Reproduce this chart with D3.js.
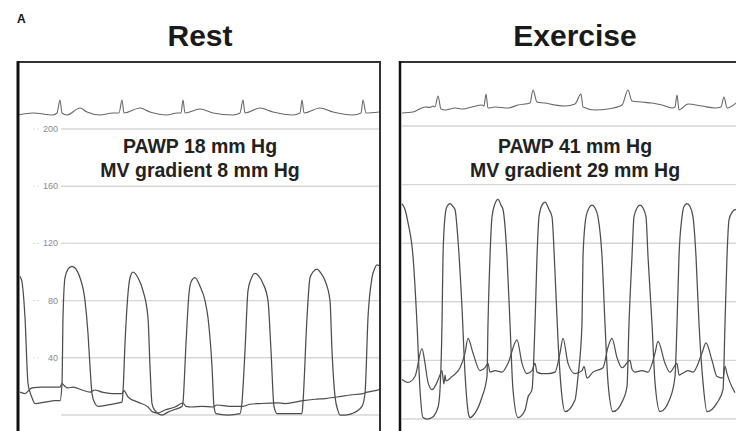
<!DOCTYPE html>
<html>
<head>
<meta charset="utf-8">
<script src="https://cdn.jsdelivr.net/npm/d3@7/dist/d3.min.js"></script>
<style>
  html, body { margin: 0; padding: 0; background: #fff; }
  svg { display: block; }
</style>
</head>
<body>
<svg id="chart" width="736" height="431"></svg>
<script>
// ---------------- DATA ----------------
const panelLabel = "A";
const panelTitles = ["Rest", "Exercise"];
const annotations = [
  ["PAWP 18 mm Hg", "MV gradient 8 mm Hg"],
  ["PAWP 41 mm Hg", "MV gradient 29 mm Hg"]
];
const gridValues = [0, 40, 80, 120, 160, 200];
const tickLabels = ["40", "80", "120", "160", "200"];

// Rest: time (s), pressure (mm Hg)
const restLV = [[0.00,97],[0.02,93],[0.05,68],[0.08,22],[0.10,16],[0.12,12],[0.15,8],[0.25,9],[0.35,10],[0.40,10],[0.42,22],[0.43,68],[0.45,96],[0.48,102],[0.52,104],[0.56,102],[0.60,96],[0.65,80],[0.68,57],[0.70,34],[0.72,15],[0.75,8],[0.78,6],[0.88,7],[0.95,8],[1.02,9],[1.03,16],[1.05,50],[1.08,85],[1.10,96],[1.13,100],[1.18,96],[1.23,87],[1.28,68],[1.30,34],[1.32,8],[1.35,3],[1.42,0],[1.48,2],[1.55,4],[1.62,6],[1.63,9],[1.66,50],[1.69,85],[1.71,93],[1.75,96],[1.80,90],[1.85,80],[1.88,68],[1.92,34],[1.94,6],[1.96,1],[2.08,0],[2.20,1],[2.22,9],[2.25,45],[2.28,87],[2.31,95],[2.35,99],[2.39,97],[2.43,92],[2.48,80],[2.51,45],[2.54,6],[2.57,1],[2.70,1],[2.82,1],[2.83,9],[2.87,68],[2.90,96],[2.93,100],[2.97,102],[3.01,99],[3.05,94],[3.10,80],[3.12,45],[3.15,13],[3.18,3],[3.20,0],[3.25,0],[3.32,1],[3.42,6],[3.45,15],[3.48,68],[3.52,96],[3.55,103],[3.57,105],[3.60,104]];
const restPAWP = [[0.00,16],[0.05,15],[0.12,19],[0.22,19.5],[0.32,19.5],[0.40,19.5],[0.42,22],[0.45,20],[0.48,19],[0.53,19.5],[0.62,17.5],[0.70,16],[0.75,17.5],[0.82,16],[0.92,15],[1.02,15],[1.04,17],[1.08,12.6],[1.18,9],[1.28,5.6],[1.33,2],[1.38,1.4],[1.45,3.5],[1.55,5.6],[1.63,8.4],[1.66,6],[1.72,5.6],[1.82,6],[1.93,5.6],[1.97,7],[2.10,6],[2.23,6],[2.30,7.5],[2.40,8],[2.57,8.5],[2.65,8],[2.75,9],[2.83,10],[2.95,11],[3.05,11.5],[3.17,12.6],[3.30,14],[3.43,15],[3.47,16],[3.55,17],[3.60,18]];
// Rest ECG: time (s), relative amplitude
const restECG = [[-0.02,-0.15],[0.13,0],[0.33,-0.15],[0.37,0],[0.40,1.0],[0.42,0],[0.47,-0.15],[0.60,0.38],[0.67,0.08],[0.80,-0.15],[0.93,0],[0.99,0],[1.02,1.0],[1.04,0],[1.20,0.38],[1.30,0.08],[1.47,-0.15],[1.57,0],[1.61,0],[1.63,1.0],[1.65,0],[1.80,0.31],[1.93,0],[2.13,-0.15],[2.20,0],[2.23,1.0],[2.25,0],[2.40,0.38],[2.53,0.08],[2.73,-0.15],[2.80,0],[2.82,1.0],[2.84,0],[3.00,0.38],[3.13,0.08],[3.33,-0.15],[3.41,0],[3.43,1.0],[3.46,0],[3.60,0.08]];

// Exercise
const exLV = [[-0.01,147],[0.02,143],[0.05,134],[0.10,111],[0.14,65],[0.17,20],[0.20,1],[0.24,0],[0.29,1],[0.35,8],[0.37,20],[0.39,65],[0.40,111],[0.42,138],[0.44,145],[0.47,147],[0.50,145],[0.52,143],[0.55,122],[0.59,76],[0.62,31],[0.66,2],[0.67,1],[0.72,4],[0.79,15],[0.84,29],[0.85,65],[0.87,111],[0.89,138],[0.92,147],[0.95,150],[0.98,146],[1.00,143],[1.04,111],[1.07,65],[1.10,20],[1.15,1],[1.22,6],[1.25,15],[1.29,20],[1.32,65],[1.34,111],[1.36,138],[1.39,146],[1.42,148],[1.46,143],[1.49,138],[1.52,100],[1.55,54],[1.59,15],[1.62,5],[1.72,13],[1.75,29],[1.79,65],[1.80,111],[1.83,138],[1.86,144],[1.89,146],[1.92,144],[1.95,138],[1.99,111],[2.02,65],[2.05,25],[2.10,5],[2.20,13],[2.24,22],[2.26,65],[2.29,111],[2.31,138],[2.34,144],[2.37,146],[2.40,144],[2.43,138],[2.45,111],[2.49,65],[2.52,25],[2.57,5],[2.67,14],[2.72,29],[2.74,65],[2.76,111],[2.79,138],[2.81,145],[2.84,147],[2.87,145],[2.90,138],[2.93,111],[2.96,65],[3.00,25],[3.04,5],[3.14,11],[3.20,20],[3.22,65],[3.24,111],[3.26,136],[3.29,141],[3.32,143],[3.35,142]];
const exPAWP = [[-0.01,27],[0.05,25],[0.12,29],[0.19,48],[0.22,38],[0.25,25],[0.29,20],[0.34,25],[0.37,30],[0.39,33],[0.40,28],[0.41,24],[0.42,30],[0.43,26],[0.49,29],[0.57,35],[0.62,45],[0.65,55],[0.70,45],[0.77,33],[0.82,35],[0.85,38],[0.87,32],[0.92,33],[0.99,32],[1.05,38],[1.14,54],[1.19,38],[1.24,31],[1.29,33],[1.32,38],[1.34,32],[1.39,31],[1.45,31],[1.52,32],[1.57,45],[1.60,55],[1.65,38],[1.72,31],[1.79,33],[1.81,36],[1.84,28],[1.90,32],[2.00,35],[2.05,49],[2.09,55],[2.14,42],[2.19,35],[2.27,40],[2.29,34],[2.32,32],[2.39,33],[2.45,32],[2.52,45],[2.55,53],[2.62,38],[2.67,32],[2.74,38],[2.76,30],[2.79,31],[2.85,33],[2.90,32],[2.99,45],[3.03,52],[3.09,40],[3.14,29],[3.20,28],[3.22,36],[3.24,31],[3.27,25],[3.32,18]];
const exECG = [[-0.01,-0.38],[0.10,-0.31],[0.22,0.08],[0.27,0.05],[0.30,0.15],[0.32,0.08],[0.35,0.92],[0.38,-0.08],[0.42,-0.15],[0.52,0],[0.60,-0.08],[0.69,0.08],[0.79,0.23],[0.81,0.15],[0.83,1.08],[0.85,0],[0.92,0.08],[1.05,0],[1.15,0.23],[1.27,0.38],[1.30,1.38],[1.34,0.46],[1.42,0.38],[1.52,0.23],[1.62,0.15],[1.72,0.31],[1.78,1.08],[1.80,0.08],[1.92,-0.15],[2.05,-0.08],[2.19,0.23],[2.25,1.38],[2.29,0.54],[2.39,0.46],[2.49,0.38],[2.59,0.23],[2.69,0],[2.72,0.08],[2.74,1.0],[2.76,-0.15],[2.85,0.31],[2.99,0.15],[3.12,0],[3.18,0.08],[3.21,0.85],[3.24,0],[3.33,0.38]];

// ---------------- LAYOUT ----------------
const svg = d3.select("#chart");
svg.append("rect").attr("width", 736).attr("height", 431).attr("fill", "#fff");

const panels = [
  { box: [18, 62, 380, 440], xDom: [-0.02, 3.60], xRange: [18, 380], yRange: [415, 129], ecgRange: [113, 100],
    lv: restLV, pawp: restPAWP, ecg: restECG, labels: true, titleX: 200, annX: 200 },
  { box: [400, 62, 760, 440], xDom: [-0.03, 3.33], xRange: [400, 736], yRange: [419, 126], ecgRange: [108, 95],
    lv: exLV, pawp: exPAWP, ecg: exECG, labels: false, titleX: 575, annX: 575 }
];

svg.append("text").attr("x", 17).attr("y", 23).text(panelLabel)
  .attr("font-family", "Liberation Sans, Arial, sans-serif").attr("font-weight", "bold")
  .attr("font-size", 12).attr("fill", "#111");

panels.forEach((p, i) => {
  const [x0, y0, x1, y1] = p.box;
  const x = d3.scaleLinear().domain(p.xDom).range(p.xRange);
  const y = d3.scaleLinear().domain([0, 200]).range(p.yRange);
  const ye = d3.scaleLinear().domain([0, 1]).range(p.ecgRange);

  const clipId = "clip" + i;
  svg.append("clipPath").attr("id", clipId).append("rect")
    .attr("x", x0 + 1).attr("y", y0).attr("width", x1 - x0 - 2).attr("height", y1 - y0);
  const g = svg.append("g").attr("clip-path", `url(#${clipId})`);

  // grid
  const gx0 = p.labels ? 61 : x0 + 2;
  g.selectAll("line.grid").data(gridValues).join("line")
    .attr("class", "grid")
    .attr("x1", gx0).attr("x2", x1)
    .attr("y1", d => y(d)).attr("y2", d => y(d))
    .attr("stroke", "#d6d6d6").attr("stroke-width", 1.4);
  if (p.labels) {
    g.selectAll("line.gridstub").data(gridValues.slice(1)).join("line")
      .attr("class", "gridstub")
      .attr("x1", 33).attr("x2", 40)
      .attr("y1", d => y(d)).attr("y2", d => y(d))
      .attr("stroke", "#dedede").attr("stroke-width", 1).attr("stroke-dasharray", "2,2");
    g.selectAll("text.tick").data(tickLabels).join("text")
      .attr("class", "tick")
      .attr("x", 58).attr("y", d => y(+d) + 3)
      .attr("text-anchor", "end")
      .attr("font-family", "Liberation Sans, Arial, sans-serif")
      .attr("font-size", 9).attr("fill", "#8a8a8a")
      .text(d => d);
  }

  const line = d3.line().x(d => x(d[0])).y(d => y(d[1])).curve(d3.curveMonotoneX);
  const eline = d3.line().x(d => x(d[0])).y(d => ye(d[1])).curve(d3.curveMonotoneX);

  g.append("path").attr("d", eline(p.ecg)).attr("fill", "none")
    .attr("stroke", "#666").attr("stroke-width", 1.1);
  g.append("path").attr("d", line(p.pawp)).attr("fill", "none")
    .attr("stroke", "#4d4d4d").attr("stroke-width", 1.2);
  g.append("path").attr("d", line(p.lv)).attr("fill", "none")
    .attr("stroke", "#4d4d4d").attr("stroke-width", 1.25);

  // borders
  svg.append("line").attr("x1", x0).attr("x2", x1).attr("y1", y0).attr("y2", y0)
    .attr("stroke", "#333").attr("stroke-width", 2);
  svg.append("line").attr("x1", x0).attr("x2", x0).attr("y1", y0 - 1).attr("y2", 431)
    .attr("stroke", "#111").attr("stroke-width", i === 0 ? 3 : 2.5);
  if (i === 0) {
    svg.append("line").attr("x1", x1).attr("x2", x1).attr("y1", y0 - 1).attr("y2", 431)
      .attr("stroke", "#333").attr("stroke-width", 2);
  }

  // title
  svg.append("text").attr("x", p.titleX).attr("y", 46)
    .attr("text-anchor", "middle")
    .attr("font-family", "Liberation Sans, Arial, sans-serif")
    .attr("font-weight", "bold").attr("font-size", 30).attr("fill", "#1a1a1a")
    .text(panelTitles[i]);

  // annotation
  annotations[i].forEach((t, k) => {
    svg.append("text").attr("x", p.annX).attr("y", 153 + k * 24)
      .attr("text-anchor", "middle")
      .attr("font-family", "Liberation Sans, Arial, sans-serif")
      .attr("font-weight", "bold").attr("font-size", 19.5).attr("fill", "#222")
      .text(t);
  });
});
</script>
</body>
</html>
